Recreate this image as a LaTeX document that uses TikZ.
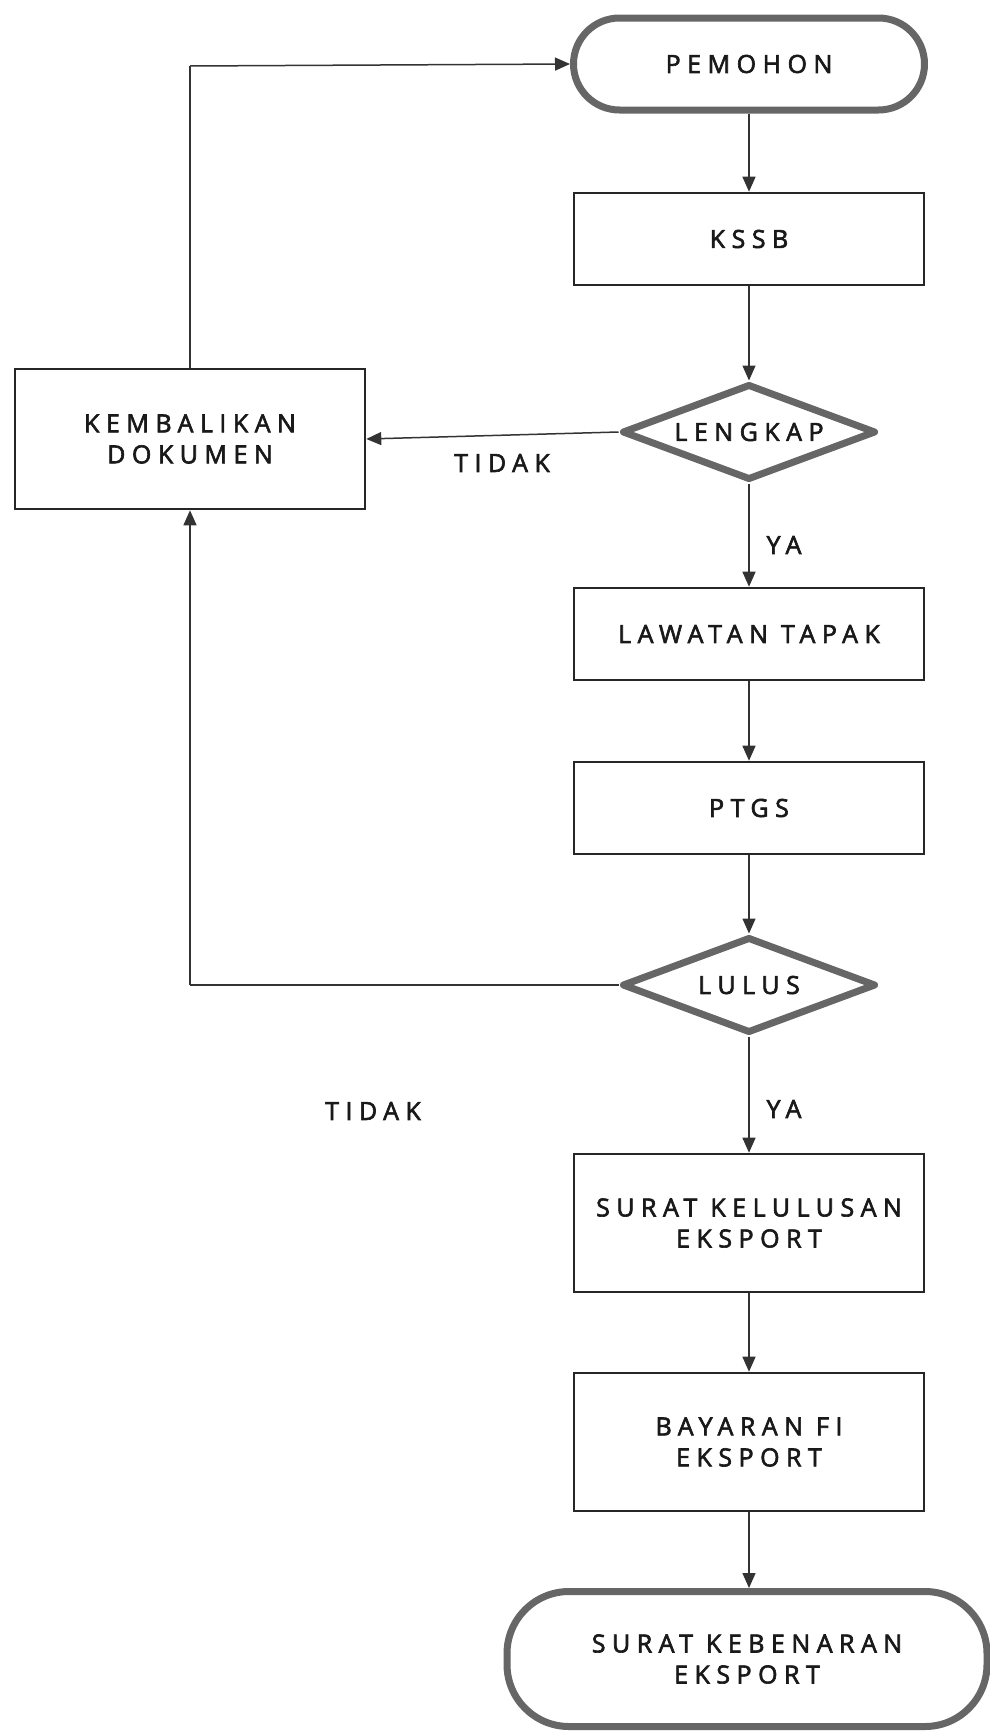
\documentclass[tikz,border=0pt]{standalone}
\usepackage{fontspec}
\setmainfont{Open Sans}[LetterSpace=26, FakeBold=2.5]
\usetikzlibrary{shapes.geometric,arrows.meta}
\begin{document}
\begin{tikzpicture}[x=1pt,y=1pt,
  every node/.style={font=\fontsize{25}{31}\selectfont, text=black!90},
  procbox/.style={draw=black!85, line width=2.6pt, minimum width=350pt, inner sep=0pt, align=center},
  termbox/.style={draw=black!60, line width=7pt, rounded corners=#1, inner sep=0pt, align=center},
  decbox/.style={diamond, shape aspect=2.65, draw=black!60, line width=7pt, line join=round, minimum width=254pt, minimum height=96pt, inner sep=0pt, align=center},
  conn/.style={draw=black!80, line width=1.5pt, -{Triangle[length=15pt,width=13pt]}},
  plain/.style={draw=black!80, line width=1.5pt},
  lbl/.style={inner sep=0pt}
]
\useasboundingbox (0,0) rectangle (990,-1732);
\node[termbox=46pt, minimum width=351pt, minimum height=92pt] (pem) at (749,-64) {PEMOHON};
\node[procbox, minimum height=92pt] (kssb) at (749,-239) {KSSB};
\node[decbox] (leng) at (749,-432) {LENGKAP};
\node[procbox, minimum height=140pt] (kemb) at (190,-439) {KEMBALIKAN\\DOKUMEN};
\node[procbox, minimum height=92pt] (law) at (749,-634) {LAWATAN TAPAK};
\node[procbox, minimum height=92pt] (ptgs) at (749,-808) {PTGS};
\node[decbox] (lulus) at (749,-985) {LULUS};
\node[procbox, minimum height=138pt] (skl) at (749,-1223) {SURAT KELULUSAN\\EKSPORT};
\node[procbox, minimum height=138pt] (bay) at (749,-1442) {BAYARAN FI\\EKSPORT};
\node[termbox=62pt, minimum width=480pt, minimum height=135pt] (skb) at (747,-1659) {SURAT KEBENARAN\\EKSPORT};

\coordinate (c1) at (190,-66);
\coordinate (c2) at (190,-985);

\draw[conn] (pem) -- (kssb);
\draw[conn] (kssb) -- (leng);
\draw[conn] (leng.west) -- (kemb.east);
\draw[plain] (kemb.north) -- (c1);
\draw[conn] (c1) -- (pem.west);
\draw[conn] (leng) -- (law);
\draw[conn] (law) -- (ptgs);
\draw[conn] (ptgs) -- (lulus);
\draw[plain] (lulus.west) -- (c2);
\draw[conn] (c2) -- (kemb.south);
\draw[conn] (lulus) -- (skl);
\draw[conn] (skl) -- (bay);
\draw[conn] (bay) -- (bay |- skb.north);

\node[lbl] (t1) at (502,-463) {TIDAK};
\node[lbl] (y1) at (784,-545) {YA};
\node[lbl] (t2) at (373,-1111) {TIDAK};
\node[lbl] (y2) at (784,-1109) {YA};
\end{tikzpicture}
\end{document}
